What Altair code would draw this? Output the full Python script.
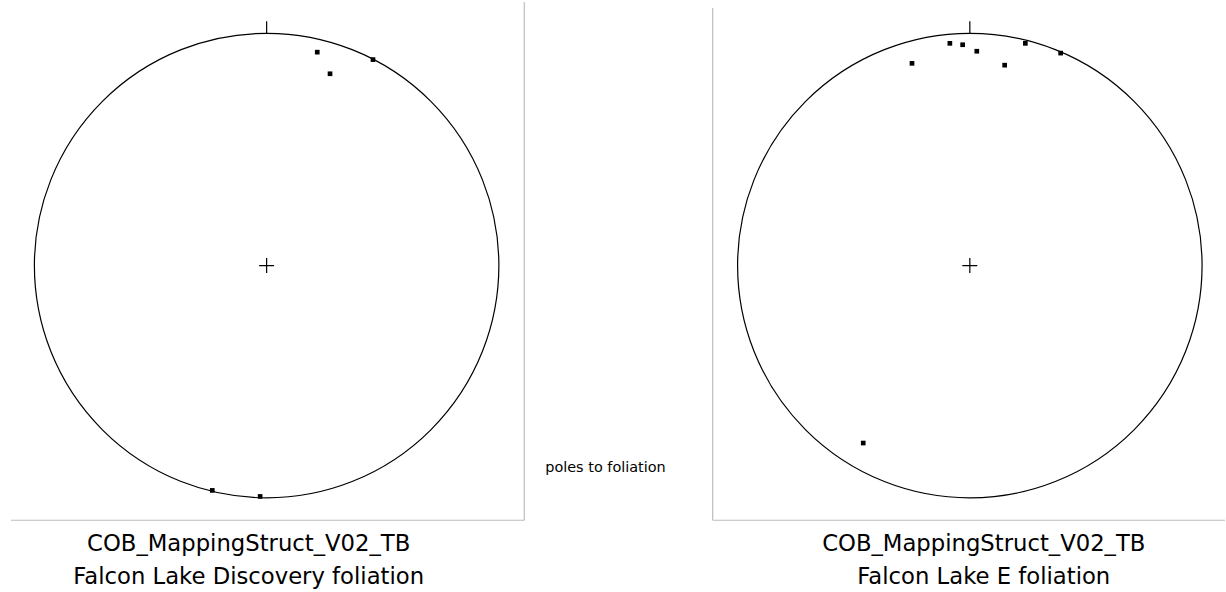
import altair as alt
import pandas as pd

# Poles, in units of the primitive-circle radius (x east, y north)
left_x = [0.218, 0.458, 0.273, -0.234, -0.028]
left_y = [0.919, 0.887, 0.826, -0.968, -0.994]

right_x = [-0.086, -0.031, 0.030, 0.239, 0.391, -0.249, 0.150, -0.459]
right_y = [0.957, 0.951, 0.923, 0.957, 0.915, 0.871, 0.863, -0.764]

left_title = ["COB_MappingStruct_V02_TB", "Falcon Lake Discovery foliation"]
right_title = ["COB_MappingStruct_V02_TB", "Falcon Lake E foliation"]
legend_text = ["poles to foliation"]

FONT = "DejaVu Sans"
R_PX = 233  # primitive circle radius in pixels
FRAME = "#bdbdbd"


def panel(xs, ys, width, height, cx_px, cy_px, title, dx, frame_side):
    xdom = [-cx_px / R_PX, (width - cx_px) / R_PX]
    ydom = [-(height - cy_px) / R_PX, cy_px / R_PX]
    xs_ = alt.Scale(domain=xdom, nice=False, zero=False)
    ys_ = alt.Scale(domain=ydom, nice=False, zero=False)

    base = alt.Chart(pd.DataFrame({"x": [0.0], "y": [0.0], "y2": [1.0], "y3": [1.052]}))

    circle = base.mark_point(
        shape="circle", size=(2 * R_PX) ** 2, filled=False, stroke="black",
        strokeWidth=1.2, opacity=1
    ).encode(
        x=alt.X("x:Q", scale=xs_, axis=None),
        y=alt.Y("y:Q", scale=ys_, axis=None),
    )
    cross = base.mark_point(
        shape="M-1,0L1,0M0,-1L0,1", size=225, filled=False, stroke="black",
        strokeWidth=1.2, opacity=1
    ).encode(
        x=alt.X("x:Q", scale=xs_, axis=None),
        y=alt.Y("y:Q", scale=ys_, axis=None),
    )
    tick = base.mark_rule(color="black", strokeWidth=1.2).encode(
        x=alt.X("x:Q", scale=xs_, axis=None),
        y=alt.Y("y2:Q", scale=ys_, axis=None),
        y2="y3:Q",
    )
    pts = alt.Chart(pd.DataFrame({"x": xs, "y": ys})).mark_square(
        size=22, color="black", opacity=1
    ).encode(
        x=alt.X("x:Q", scale=xs_, axis=None),
        y=alt.Y("y:Q", scale=ys_, axis=None),
    )
    dummy = alt.Chart(pd.DataFrame({"a": [0]}))
    bottom = dummy.mark_rule(color=FRAME, strokeWidth=1.2).encode(
        x=alt.value(0), x2=alt.value(width), y=alt.value(height)
    )
    if frame_side == "right":
        side = dummy.mark_rule(color=FRAME, strokeWidth=1.2).encode(
            x=alt.value(width), y=alt.value(0), y2=alt.value(height)
        )
    else:
        side = dummy.mark_rule(color=FRAME, strokeWidth=1.2).encode(
            x=alt.value(0), y=alt.value(6), y2=alt.value(height)
        )
    return alt.layer(circle, tick, cross, pts, bottom, side).properties(
        width=width, height=height,
        title=alt.TitleParams(
            text=title, orient="bottom", anchor="middle", font=FONT,
            fontSize=22.8, fontWeight="normal", color="black",
            lineHeight=33, offset=12, dx=dx,
        ),
    )


left = panel(left_x, left_y, 515, 520, 256.5, 264.5, left_title, -19, "right")
right = panel(right_x, right_y, 514, 520, 258, 264.5, right_title, 15, "left")

middle = alt.Chart(pd.DataFrame({"label": legend_text})).mark_text(
    align="left", baseline="middle", font=FONT, fontSize=14.5, color="black"
).encode(
    text="label:N", x=alt.value(20), y=alt.value(468)
).properties(width=187, height=520)

chart = alt.hconcat(left, middle, right, spacing=0).properties(
    padding={"left": 10, "right": 0, "top": 0, "bottom": 0},
    background="white",
).configure_view(stroke=None)

chart.save("out.html", embed_options={"renderer": "svg", "actions": False})
